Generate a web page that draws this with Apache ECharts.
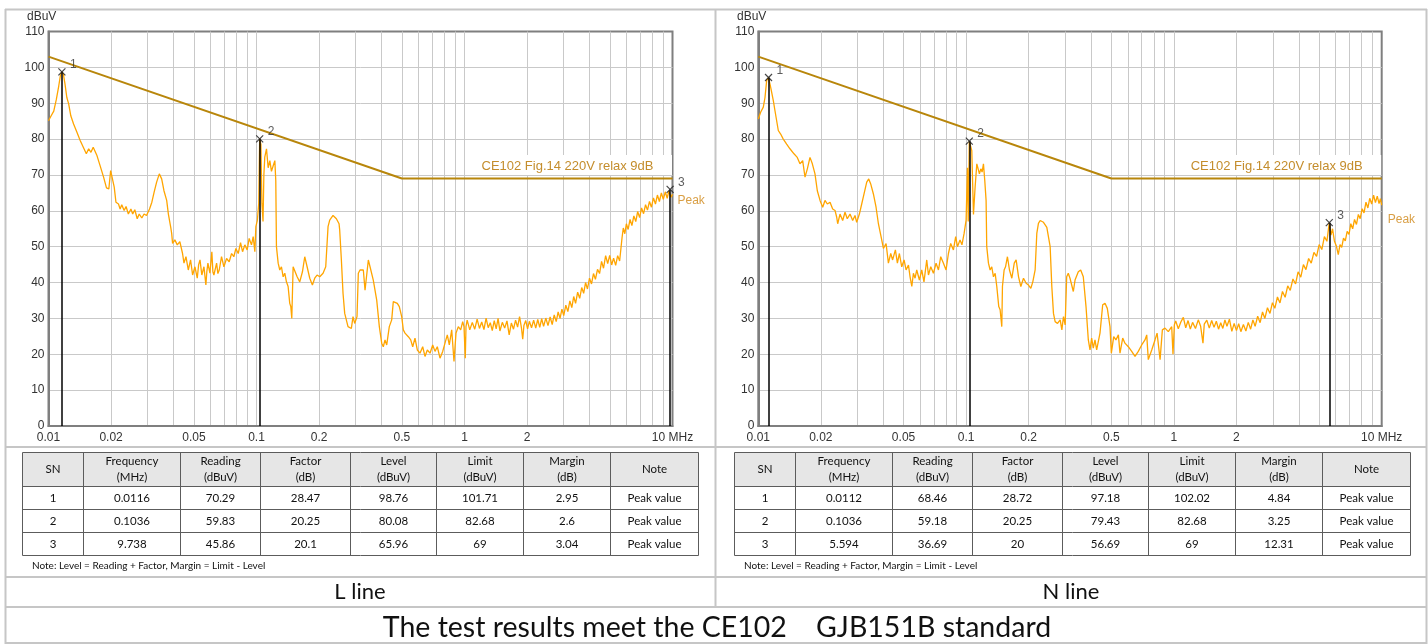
<!DOCTYPE html>
<html>
<head>
<meta charset="utf-8">
<title>CE102 conducted emission</title>
<script src="https://cdn.jsdelivr.net/npm/echarts@6/dist/echarts.min.js"></script>
<style>
  html, body { margin: 0; padding: 0; background: #fff; }
  #chart { width: 1428px; height: 644px; }
</style>
</head>
<body>
<div id="chart"></div>
<script>
// log frequency axis: grid line positions and labelled positions (MHz)
const gridFreqs = [0.01, 0.02, 0.03, 0.04, 0.05, 0.06, 0.07, 0.08, 0.09,
  0.1, 0.2, 0.3, 0.4, 0.5, 0.6, 0.7, 0.8, 0.9,
  1, 2, 3, 4, 5, 6, 7, 8, 9, 10]
const labelFreqs = [0.01, 0.02, 0.05, 0.1, 0.2, 0.5, 1, 2, 10]

// CE102 limit (relaxed 9 dB)
const limitName = 'CE102 Fig.14 220V relax 9dB'
const limitFreqs = [0.01, 0.5, 10]
const limitLevels = [103, 69, 69]

// measured peak trace, L line [MHz, dBuV]
const traceL = [
  [0.0100, 85.1], [0.0103, 86.5], [0.0106, 87.8], [0.0109, 91.0], [0.0112, 94.8], [0.0114, 97.6],
  [0.0116, 98.76], [0.0118, 98.0], [0.0120, 95.4], [0.01225, 91.6], [0.0125, 89.8], [0.0128, 86.5],
  [0.0132, 84.2], [0.0137, 81.9], [0.0142, 79.6], [0.0147, 77.7], [0.0152, 75.9], [0.0156, 77.3],
  [0.0160, 76.3], [0.0164, 77.7], [0.0171, 75.4], [0.0177, 72.6], [0.0184, 69.4], [0.0190, 66.4],
  [0.0195, 66.1], [0.0199, 71.2], [0.0202, 71.7], [0.0207, 66.6], [0.0211, 62.4], [0.0217, 61.9],
  [0.0221, 60.5], [0.0225, 61.7], [0.0231, 60.1], [0.0236, 61.2], [0.0242, 59.1], [0.0249, 60.5],
  [0.0254, 59.1], [0.0260, 60.3], [0.0267, 57.8], [0.0273, 59.1], [0.0281, 58.0], [0.0288, 59.1],
  [0.0296, 58.7], [0.0306, 60.5], [0.0314, 62.4], [0.0322, 65.2], [0.0331, 68.0], [0.0341, 70.3],
  [0.0350, 68.9], [0.0359, 65.6], [0.0370, 62.9], [0.0377, 59.1], [0.0387, 55.4], [0.0391, 53.7],
  [0.0395, 50.9], [0.0405, 51.9], [0.0416, 50.5], [0.0428, 51.4], [0.0441, 48.1], [0.0448, 45.4],
  [0.0458, 47.2], [0.0470, 43.5], [0.0482, 46.3], [0.0493, 42.1], [0.0506, 44.4], [0.0519, 41.2],
  [0.0527, 45.0], [0.0535, 46.3], [0.0546, 42.1], [0.0559, 44.4], [0.0571, 39.3], [0.0577, 43.0],
  [0.0584, 45.4], [0.0597, 42.6], [0.0610, 48.6], [0.0617, 43.0], [0.0624, 42.1], [0.0643, 45.4],
  [0.0652, 42.5], [0.0662, 43.5], [0.0679, 47.2], [0.0697, 44.4], [0.0718, 46.7], [0.0739, 45.8],
  [0.0759, 48.1], [0.0778, 47.2], [0.0796, 49.5], [0.0817, 48.1], [0.0838, 51.1], [0.0857, 48.6],
  [0.0879, 50.5], [0.0902, 49.1], [0.0922, 52.3], [0.0946, 50.5], [0.0964, 52.8], [0.0982, 48.6],
  [0.0993, 55.6], [0.1010, 57.4], [0.1025, 62.0], [0.1036, 80.08], [0.1050, 78.5], [0.1062, 62.0],
  [0.1075, 57.0], [0.1085, 70.0], [0.1096, 75.0], [0.1117, 77.3], [0.1138, 72.0], [0.1159, 74.0],
  [0.1180, 71.0], [0.1202, 72.5], [0.1225, 74.0], [0.1238, 68.4], [0.1247, 50.0], [0.1271, 45.4],
  [0.1294, 43.5], [0.1318, 44.4], [0.1343, 41.6], [0.1368, 42.6], [0.1393, 40.2], [0.1419, 38.9],
  [0.1445, 34.2], [0.1462, 33.3], [0.1478, 30.0], [0.1500, 44.4], [0.1528, 44.9], [0.1568, 41.6],
  [0.1614, 40.2], [0.1663, 43.0], [0.1706, 47.2], [0.1751, 44.4], [0.1803, 41.2], [0.1857, 39.3],
  [0.1905, 41.2], [0.1955, 42.1], [0.2014, 41.6], [0.2089, 42.6], [0.2152, 44.4], [0.2208, 55.6],
  [0.2249, 57.4], [0.2333, 58.7], [0.2421, 57.8], [0.2494, 56.4], [0.2512, 54.6], [0.2559, 46.3],
  [0.2606, 37.0], [0.2655, 31.4], [0.2754, 27.7], [0.2858, 27.2], [0.2911, 30.5], [0.2965, 28.6],
  [0.3042, 30.5], [0.3087, 42.6], [0.3145, 43.5], [0.3263, 43.5], [0.3325, 37.9], [0.3449, 46.3],
  [0.3514, 44.4], [0.3643, 40.7], [0.3784, 35.1], [0.3895, 27.7], [0.3999, 23.1], [0.4071, 22.1],
  [0.4148, 24.0], [0.4227, 22.6], [0.4350, 27.7], [0.4467, 29.6], [0.4547, 34.7], [0.4634, 35.1],
  [0.4753, 34.2], [0.4859, 33.3], [0.4990, 30.5], [0.5080, 26.8], [0.5176, 25.9], [0.5369, 24.9],
  [0.5513, 24.0], [0.5636, 22.1], [0.5781, 24.5], [0.5931, 21.2], [0.6110, 20.3], [0.6295, 22.1],
  [0.6458, 19.4], [0.6626, 21.2], [0.6828, 20.3], [0.7032, 22.6], [0.7215, 20.8], [0.7401, 22.1],
  [0.7625, 18.9], [0.7856, 20.8], [0.8058, 23.1], [0.8266, 25.4], [0.8451, 22.6], [0.8680, 26.8],
  [0.8903, 18.0], [0.9102, 25.9], [0.9337, 27.7], [0.9587, 26.8], [0.9802, 29.1], [0.9945, 27.7],
  [1.0088, 18.9], [1.0167, 27.7], [1.03, 29.5], [1.06, 26.8], [1.09, 28.9], [1.12, 27.0],
  [1.15, 29.8], [1.18, 27.2], [1.21, 29.0], [1.24, 26.9], [1.27, 30.1], [1.30, 27.4], [1.33, 28.8],
  [1.36, 26.6], [1.39, 29.4], [1.42, 27.1], [1.45, 30.0], [1.48, 26.5], [1.52, 28.9], [1.56, 27.3],
  [1.60, 29.3], [1.64, 25.4], [1.68, 28.7], [1.72, 27.0], [1.76, 29.5], [1.80, 27.6], [1.84, 30.5],
  [1.88, 27.2], [1.905, 24.2], [1.93, 28.0], [1.97, 29.4], [2.01, 27.1], [2.05, 29.2], [2.10, 27.4],
  [2.15, 29.5], [2.20, 27.3], [2.25, 29.7], [2.30, 27.5], [2.35, 29.9], [2.40, 27.8], [2.46, 30.1],
  [2.52, 28.0], [2.58, 30.4], [2.64, 28.3], [2.70, 31.0], [2.76, 29.1], [2.82, 31.8], [2.88, 30.0],
  [2.94, 32.6], [3.00, 30.8], [3.07, 33.7], [3.14, 31.9], [3.21, 34.9], [3.28, 33.0], [3.35, 36.1],
  [3.42, 34.2], [3.50, 37.3], [3.58, 35.6], [3.66, 38.6], [3.74, 37.0], [3.82, 40.0], [3.90, 38.2],
  [3.99, 41.2], [4.08, 39.6], [4.17, 42.5], [4.26, 40.9], [4.36, 43.7], [4.46, 42.5], [4.56, 45.9],
  [4.66, 44.0], [4.77, 47.5], [4.88, 45.3], [4.99, 47.6], [5.10, 44.9], [5.21, 46.8], [5.33, 44.8],
  [5.45, 47.5], [5.57, 46.0], [5.65, 49.5], [5.72, 52.5], [5.80, 55.2], [5.90, 53.6], [6.00, 56.4],
  [6.12, 54.8], [6.25, 57.6], [6.38, 55.9], [6.52, 58.6], [6.66, 57.0], [6.80, 59.8], [6.95, 58.1],
  [7.10, 60.8], [7.26, 59.2], [7.42, 61.7], [7.58, 60.2], [7.75, 62.6], [7.92, 61.0], [8.10, 63.6],
  [8.28, 61.9], [8.46, 64.4], [8.65, 62.6], [8.84, 65.0], [9.03, 63.2], [9.23, 65.3], [9.43, 63.5],
  [9.60, 65.5], [9.738, 65.96], [9.85, 63.8], [10.0, 64.6]
]

// measured peak trace, N line [MHz, dBuV]
const traceN = [
  [0.0100, 85.6], [0.01026, 87.5], [0.01057, 88.9], [0.01077, 91.6], [0.01097, 96.3], [0.0112, 97.18],
  [0.0113, 96.7], [0.01151, 94.0], [0.01181, 90.7], [0.01203, 87.9], [0.01248, 82.4], [0.01281, 81.4],
  [0.01319, 80.0], [0.01369, 78.6], [0.0142, 77.3], [0.01485, 75.9], [0.0154, 74.9], [0.01587, 73.1],
  [0.01635, 74.0], [0.01678, 69.4], [0.01722, 71.7], [0.01773, 74.9], [0.0182, 73.1], [0.01874, 70.3],
  [0.01923, 65.6], [0.01982, 62.9], [0.02041, 61.0], [0.02094, 62.9], [0.02149, 61.9], [0.02214, 62.4],
  [0.0228, 60.5], [0.0234, 60.1], [0.02384, 58.2], [0.0241, 56.4], [0.02473, 59.1], [0.02547, 57.3],
  [0.02614, 59.6], [0.0268, 57.8], [0.02763, 59.1], [0.02846, 57.3], [0.0292, 58.7], [0.02975, 56.8],
  [0.03065, 59.1], [0.03145, 61.9], [0.03227, 64.7], [0.03325, 68.0], [0.0340, 68.9], [0.03475, 67.5],
  [0.0358, 64.7], [0.03687, 61.0], [0.03784, 56.4], [0.03926, 51.9], [0.0400, 49.5], [0.0412, 50.9],
  [0.04227, 45.4], [0.04338, 48.1], [0.0443, 46.3], [0.04568, 49.1], [0.0467, 45.4], [0.04775, 48.1],
  [0.0490, 44.4], [0.0503, 46.3], [0.05141, 43.5], [0.0528, 44.9], [0.05374, 41.6], [0.0548, 38.9],
  [0.05577, 42.6], [0.0568, 41.2], [0.05787, 43.5], [0.0596, 40.7], [0.06117, 43.5], [0.0627, 40.2],
  [0.06466, 46.3], [0.0659, 42.1], [0.0676, 44.4], [0.06962, 42.6], [0.0717, 45.4], [0.07361, 43.5],
  [0.0755, 47.2], [0.0778, 45.4], [0.0801, 43.5], [0.08221, 48.1], [0.0843, 50.9], [0.0869, 49.1],
  [0.0891, 52.8], [0.09086, 50.0], [0.0935, 51.9], [0.0955, 50.5], [0.09781, 53.7], [0.1000, 57.4],
  [0.1015, 72.0], [0.1024, 57.0], [0.1036, 79.43], [0.1065, 76.8], [0.1085, 59.0], [0.1105, 66.6],
  [0.1126, 73.1], [0.1138, 72.1], [0.1159, 70.3], [0.1177, 71.7], [0.1194, 70.8], [0.1212, 73.1],
  [0.1230, 68.4], [0.1248, 62.9], [0.1257, 50.0], [0.1281, 45.4], [0.1305, 43.5], [0.1329, 44.4],
  [0.1354, 41.6], [0.1380, 42.6], [0.1405, 38.9], [0.1436, 33.3], [0.1458, 32.4], [0.1485, 27.7],
  [0.1496, 38.9], [0.1524, 43.5], [0.1548, 44.4], [0.1581, 47.2], [0.1617, 43.5], [0.1660, 41.2],
  [0.1705, 45.4], [0.1741, 46.3], [0.1788, 41.6], [0.1834, 38.9], [0.1889, 41.2], [0.1945, 39.8],
  [0.1996, 39.3], [0.2049, 38.4], [0.2094, 40.2], [0.2149, 43.5], [0.2189, 53.7], [0.2229, 56.5],
  [0.2272, 57.3], [0.2357, 56.8], [0.2446, 55.4], [0.2492, 55.6], [0.2538, 50.0], [0.2585, 38.9],
  [0.2633, 31.4], [0.2682, 29.1], [0.2754, 28.6], [0.2836, 29.6], [0.2889, 26.8], [0.2942, 30.5],
  [0.2997, 28.2], [0.3048, 41.6], [0.3102, 42.6], [0.3162, 41.2], [0.3281, 37.5], [0.3344, 40.7],
  [0.3467, 43.0], [0.3560, 43.5], [0.3664, 41.6], [0.3776, 33.3], [0.3874, 24.0], [0.3947, 21.2],
  [0.4020, 24.5], [0.4093, 21.7], [0.4171, 24.0], [0.4249, 21.2], [0.4409, 25.9], [0.4543, 33.8],
  [0.4661, 34.2], [0.4781, 32.8], [0.4926, 27.7], [0.5000, 20.3], [0.5133, 24.9], [0.5260, 24.0],
  [0.5405, 25.4], [0.5503, 20.3], [0.5670, 24.5], [0.5813, 23.1], [0.6034, 22.1], [0.6265, 20.8],
  [0.6500, 19.4], [0.6740, 20.8], [0.6998, 22.6], [0.7258, 24.0], [0.7400, 25.4], [0.7530, 18.5],
  [0.7821, 21.2], [0.8110, 24.0], [0.8300, 25.9], [0.8411, 25.4], [0.8580, 18.5], [0.8800, 26.8],
  [0.9062, 27.3], [0.9399, 26.3], [0.9759, 27.7], [0.9900, 20.0], [1.005, 28.2], [1.02, 29.3],
  [1.05, 27.1], [1.08, 29.0], [1.11, 30.3], [1.14, 27.4], [1.17, 29.4], [1.20, 27.0], [1.23, 28.9],
  [1.27, 27.2], [1.31, 29.6], [1.345, 27.8], [1.38, 23.1], [1.40, 28.4], [1.44, 29.5], [1.48, 27.3],
  [1.52, 29.4], [1.56, 27.5], [1.60, 29.2], [1.64, 27.0], [1.68, 28.8], [1.72, 27.2], [1.76, 29.6],
  [1.80, 27.8], [1.85, 29.8], [1.90, 26.4], [1.95, 28.6], [2.00, 26.6], [2.05, 28.5], [2.10, 26.3],
  [2.16, 28.3], [2.22, 26.5], [2.28, 28.9], [2.34, 27.0], [2.40, 29.6], [2.46, 27.8], [2.53, 30.6],
  [2.60, 28.8], [2.67, 31.8], [2.74, 30.0], [2.82, 33.0], [2.90, 31.4], [2.98, 34.4], [3.06, 32.8],
  [3.15, 36.0], [3.24, 34.3], [3.33, 37.5], [3.43, 35.9], [3.53, 39.1], [3.63, 37.8], [3.74, 41.0],
  [3.85, 39.6], [3.96, 43.0], [4.08, 41.5], [4.20, 45.0], [4.32, 43.6], [4.45, 46.7], [4.58, 45.4],
  [4.72, 48.4], [4.86, 47.3], [5.00, 50.6], [5.15, 49.2], [5.30, 52.8], [5.45, 51.5], [5.594, 56.69],
  [5.70, 53.2], [5.80, 55.0], [5.92, 51.6], [6.05, 50.2], [6.18, 47.8], [6.30, 50.6], [6.42, 49.8],
  [6.55, 52.4], [6.68, 51.6], [6.82, 54.3], [6.96, 53.4], [7.10, 56.4], [7.25, 55.0], [7.40, 57.6],
  [7.56, 56.2], [7.72, 59.0], [7.88, 57.8], [8.05, 60.6], [8.22, 59.4], [8.40, 62.4], [8.58, 60.8],
  [8.76, 63.5], [8.95, 61.9], [9.14, 64.4], [9.33, 62.3], [9.52, 64.1], [9.71, 62.0], [9.86, 63.4],
  [10.0, 61.6]
]

// result tables
const tableHead = ['SN', 'Frequency\n(MHz)', 'Reading\n(dBuV)', 'Factor\n(dB)', 'Level\n(dBuV)', 'Limit\n(dBuV)', 'Margin\n(dB)', 'Note']
const noteL = ['Peak value', 'Peak value', 'Peak value']

const freqL = [0.0116, 0.1036, 9.738]
const readingL = [70.29, 59.83, 45.86]
const factorL = [28.47, 20.25, 20.1]
const levelL = [98.76, 80.08, 65.96]
const limitL = [101.71, 82.68, 69]
const marginL = [2.95, 2.6, 3.04]

const freqN = [0.0112, 0.1036, 5.594]
const readingN = [68.46, 59.18, 36.69]
const factorN = [28.72, 20.25, 20]
const levelN = [97.18, 79.43, 56.69]
const limitN = [102.02, 82.68, 69]
const marginN = [4.84, 3.25, 12.31]

const FONT = 'Liberation Sans'
const TEXT_FONT = 'Lato'
const ORANGE = '#FFA500'
const LIMIT_COLOR = '#B8860B'
const FRAME = '#c6c6c6'

// table geometry (left panel; right panel is shifted)
const colX = [22.5, 83.5, 180.5, 260.5, 350.5, 436.5, 523.5, 610.5, 698.5]
const rowY = [452.5, 486.5, 509.5, 532.5, 555.5]

function freqAxis(gridIndex) {
  return {
    type: 'log',
    logBase: 10,
    gridIndex: gridIndex,
    min: 0.01,
    max: 10,
    axisLine: { show: true, onZero: false, lineStyle: { color: '#7f7f7f', width: 2 } },
    axisTick: { show: false, customValues: gridFreqs },
    axisLabel: {
      customValues: labelFreqs,
      color: '#333',
      fontSize: 12,
      fontFamily: FONT,
      margin: 6,
      formatter: v => (v === 10 ? '10 MHz' : String(v))
    },
    splitLine: { show: true, showMinLine: false, showMaxLine: false, lineStyle: { color: '#c9c9c9', width: 1 } }
  }
}

function levelAxis(gridIndex) {
  return {
    type: 'value',
    gridIndex: gridIndex,
    min: 0,
    max: 110,
    interval: 10,
    axisLine: { show: true, lineStyle: { color: '#7f7f7f', width: 2 } },
    axisTick: { show: false },
    axisLabel: { color: '#333', fontSize: 12, fontFamily: FONT, margin: 4 },
    splitLine: { show: true, showMinLine: false, showMaxLine: false, lineStyle: { color: '#c9c9c9', width: 1 } }
  }
}

function panelSeries(i, trace, mFreqs, mLevels, peakOffset) {
  return [
    {
      type: 'line',
      name: 'Peak',
      xAxisIndex: i,
      yAxisIndex: i,
      data: trace,
      symbol: 'none',
      z: 2,
      lineStyle: { color: ORANGE, width: 1.3 },
      itemStyle: { color: ORANGE },
      endLabel: { show: true, formatter: 'Peak', color: '#D99F45', fontSize: 12, fontFamily: FONT, offset: peakOffset }
    },
    {
      type: 'line',
      name: limitName,
      xAxisIndex: i,
      yAxisIndex: i,
      data: limitFreqs.map((f, k) => [f, limitLevels[k]]),
      symbol: 'none',
      z: 3,
      lineStyle: { color: LIMIT_COLOR, width: 2 },
      markPoint: {
        silent: true,
        symbol: 'rect',
        symbolSize: [193, 20],
        symbolOffset: [-97, -13.5],
        itemStyle: { color: '#fff' },
        label: {
          show: true,
          position: 'inside',
          formatter: limitName,
          color: '#C48D2C',
          fontSize: 13,
          fontFamily: FONT,
          offset: [-8, 1]
        },
        data: [{ coord: [10, 69] }]
      }
    },
    {
      type: 'scatter',
      xAxisIndex: i,
      yAxisIndex: i,
      z: 5,
      data: mFreqs.map((f, k) => ({ name: String(k + 1), value: [f, mLevels[k]] })),
      symbol: 'path://M0,0L10,10M10,0L0,10',
      symbolSize: 7,
      itemStyle: { color: 'none', borderColor: '#1a1a1a', borderWidth: 1.2 },
      label: {
        show: true,
        position: 'right',
        offset: [-3, -7],
        formatter: p => p.name,
        color: '#333',
        fontSize: 12,
        fontFamily: FONT
      },
      markLine: {
        silent: true,
        symbol: ['none', 'none'],
        label: { show: false },
        lineStyle: { color: '#000', width: 1.5, type: 'solid' },
        data: mFreqs.map((f, k) => [{ coord: [f, 0] }, { coord: [f, mLevels[k]] }])
      }
    }
  ]
}

function line(x1, y1, x2, y2, stroke, width) {
  return { type: 'line', silent: true, shape: { x1, y1, x2, y2 }, style: { stroke, lineWidth: width } }
}

function text(x, y, str, size, align, extra) {
  return {
    type: 'text',
    silent: true,
    x: x,
    y: y,
    style: Object.assign({
      text: str,
      fill: '#111',
      fontSize: size,
      fontFamily: TEXT_FONT,
      align: align || 'center',
      verticalAlign: 'middle'
    }, extra || {})
  }
}

function tableGraphics(dx, freqs, reading, factor, level, limit, margin) {
  const els = []
  const x0 = colX[0] + dx
  const x1 = colX[colX.length - 1] + dx
  els.push({ type: 'rect', silent: true, shape: { x: x0, y: rowY[0], width: x1 - x0, height: rowY[1] - rowY[0] }, style: { fill: '#e6e6e6' } })
  rowY.forEach(y => els.push(line(x0, y, x1, y, '#5c5c5c', 1)))
  colX.forEach(x => els.push(line(x + dx, rowY[0], x + dx, rowY[rowY.length - 1], '#5c5c5c', 1)))

  const centers = colX.slice(1).map((x, k) => (x + colX[k]) / 2 + dx)
  tableHead.forEach((h, k) => {
    els.push(text(centers[k], (rowY[0] + rowY[1]) / 2, h, 11.5, 'center', { lineHeight: 16 }))
  })
  freqs.forEach((f, r) => {
    const cells = [String(r + 1), String(f), String(reading[r]), String(factor[r]), String(level[r]), String(limit[r]), String(margin[r]), noteL[r]]
    const cy = (rowY[r + 1] + rowY[r + 2]) / 2
    cells.forEach((c, k) => els.push(text(centers[k], cy, c, 11.5)))
  })
  els.push(text(32 + dx, 566, 'Note: Level = Reading + Factor, Margin = Limit - Level', 10, 'left'))
  return els
}

const frame = [
  line(5, 9.5, 1427, 9.5, FRAME, 2),
  line(5, 447, 1427, 447, FRAME, 2),
  line(5, 577, 1427, 577, FRAME, 2),
  line(5, 607, 1427, 607, FRAME, 2),
  line(5, 643, 1427, 643, FRAME, 2),
  line(5.5, 9, 5.5, 644, FRAME, 2),
  line(715.5, 9, 715.5, 607, FRAME, 2),
  line(1426.5, 9, 1426.5, 644, FRAME, 2)
]

const labels = [
  text(27, 17, 'dBuV', 12, 'left', { fontFamily: FONT, fill: '#333' }),
  text(737, 17, 'dBuV', 12, 'left', { fontFamily: FONT, fill: '#333' }),
  text(360, 592, 'L line', 22),
  text(1071, 592, 'N line', 22),
  text(717, 628, 'The test results meet the CE102    GJB151B standard', 28.5)
]

const chart = echarts.init(document.getElementById('chart'))

chart.setOption({
  animation: false,
  backgroundColor: '#fff',
  grid: [
    { left: 48.5, top: 31.5, width: 624, height: 394.5, show: true, borderColor: '#7f7f7f', borderWidth: 2 },
    { left: 758.3, top: 31.5, width: 623.4, height: 394.5, show: true, borderColor: '#7f7f7f', borderWidth: 2 }
  ],
  xAxis: [freqAxis(0), freqAxis(1)],
  yAxis: [levelAxis(0), levelAxis(1)],
  series: [
    ...panelSeries(0, traceL, freqL, levelL, [-3, 6]),
    ...panelSeries(1, traceN, freqN, levelN, [-2, 15])
  ],
  graphic: [
    ...frame,
    ...tableGraphics(0, freqL, readingL, factorL, levelL, limitL, marginL),
    ...tableGraphics(712, freqN, readingN, factorN, levelN, limitN, marginN),
    ...labels
  ]
})

window.addEventListener('resize', () => chart.resize())
</script>
</body>
</html>
